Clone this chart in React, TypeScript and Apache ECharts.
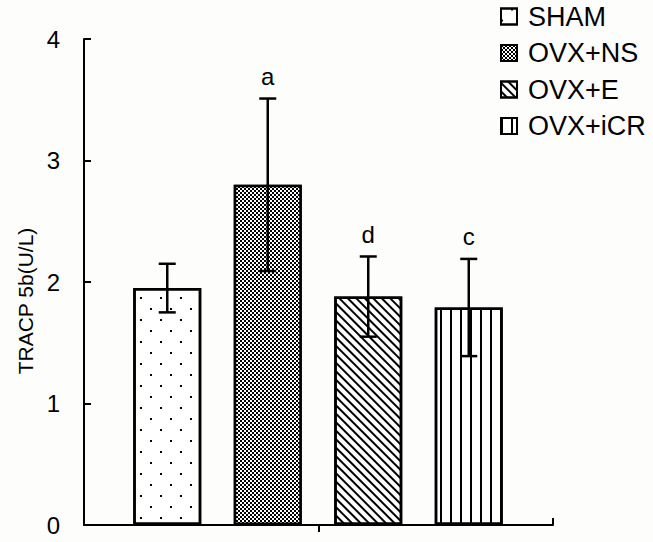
import React, { useEffect, useRef } from "react";
import * as echarts from "echarts";

const categories = ["SHAM", "OVX+NS", "OVX+E", "OVX+iCR"];
const means = [1.95, 2.8, 1.88, 1.79];
const errors = [0.2, 0.71, 0.33, 0.4];
const sigLabels = ["", "a", "d", "c"];
const yMin = 0;
const yMax = 4;
const yInterval = 1;
const yTitle = "TRACP 5b(U/L)";

const FONT = "'Liberation Sans', Arial, sans-serif";

const barColors = ["#ffffff", "#000000", "#ffffff", "#ffffff"];
const decals: any[] = [
  {
    symbol: "rect",
    symbolSize: 1,
    color: "#000",
    dashArrayX: [[2, 18], [0, 10, 2, 8]],
    dashArrayY: [2, 9],
  },
  {
    symbol: "rect",
    symbolSize: 1,
    color: "#ffffff",
    dashArrayX: [[1.5, 1.5], [0, 1.5, 1.5, 0]],
    dashArrayY: [1.5, 0],
  },
  {
    symbol: "rect",
    symbolSize: 1,
    color: "#000",
    dashArrayX: [1, 0],
    dashArrayY: [2, 4],
    rotation: Math.PI / 4,
  },
  {
    symbol: "rect",
    symbolSize: 1,
    color: "#000",
    dashArrayX: [2, 8],
    dashArrayY: [1, 0],
  },
];

export default function App() {
  const ref = useRef<HTMLDivElement>(null);
  useEffect(() => {
    if (!ref.current) return;
    const chart = echarts.init(ref.current, undefined, { renderer: "svg" });
    const barSeries = categories.map((name, i) => ({
      type: "bar",
      name,
      xAxisIndex: 2,
      yAxisIndex: 1,
      data: means.map((v, j) => (j === i ? v : "-")),
      barWidth: 68,
      barGap: "-100%",
      itemStyle: {
        color: barColors[i],
        borderColor: "#000",
        borderWidth: 2.5,
        decal: decals[i],
      },
    }));
    const option: any = {
      animation: false,
      backgroundColor: "#fdfdfb",
      legend: {
        data: categories,
        orient: "vertical",
        left: 500,
        top: 3,
        padding: 0,
        icon: "rect",
        itemWidth: 16,
        itemHeight: 16,
        itemGap: 9.5,
        textStyle: {
          fontFamily: FONT,
          fontSize: 27,
          lineHeight: 27,
          color: "#000",
          padding: [0, 0, 0, 6],
        },
      },
      grid: [
        { left: 84, right: 100, top: 39, bottom: 17 },
        { left: 117, right: 134, top: 39, bottom: 17 },
      ],
      xAxis: [
        {
          gridIndex: 0,
          type: "category",
          data: [""],
          position: "bottom",
          boundaryGap: true,
          axisLine: { show: true, lineStyle: { color: "#000", width: 2 } },
          axisTick: { show: true, alignWithLabel: true, length: 7, lineStyle: { color: "#000", width: 2 } },
          axisLabel: { show: false },
          splitLine: { show: false },
        },
        {
          gridIndex: 0,
          type: "category",
          data: [""],
          position: "bottom",
          boundaryGap: true,
          axisLine: { show: false },
          axisTick: { show: true, inside: true, length: 7, lineStyle: { color: "#000", width: 2 } },
          axisLabel: { show: false },
          splitLine: { show: false },
        },
        {
          gridIndex: 1,
          type: "category",
          data: categories,
          show: false,
        },
      ],
      yAxis: [
        {
          gridIndex: 0,
          type: "value",
          min: yMin,
          max: yMax,
          interval: yInterval,
          axisLine: { show: true, lineStyle: { color: "#000", width: 2 } },
          axisTick: { show: true, inside: true, length: 7, lineStyle: { color: "#000", width: 2 } },
          splitLine: { show: false },
          axisLabel: { fontFamily: FONT, fontSize: 24, color: "#000", margin: 24 },
          name: yTitle,
          nameLocation: "middle",
          nameGap: 48,
          nameTextStyle: { fontFamily: FONT, fontSize: 21, color: "#000", padding: [0, 38, 0, 0] },
        },
        {
          gridIndex: 1,
          type: "value",
          min: yMin,
          max: yMax,
          interval: yInterval,
          show: false,
        },
      ],
      series: [
        ...barSeries,
        {
          type: "custom",
          name: "err",
          xAxisIndex: 2,
          yAxisIndex: 1,
          data: means.map((m, i) => [i, m, errors[i]]),
          z: 5,
          renderItem: (params: any, api: any) => {
            const i = api.value(0);
            const m = api.value(1);
            const e = api.value(2);
            const top = api.coord([i, m + e]);
            const bot = api.coord([i, m - e]);
            const x = top[0];
            const cap = 8.5;
            const ls = { stroke: "#000", lineWidth: 2.5 };
            const label = sigLabels[params.dataIndex];
            const children: any[] = [
              { type: "line", shape: { x1: x, y1: top[1], x2: x, y2: bot[1] }, style: ls },
              { type: "line", shape: { x1: x - cap, y1: top[1], x2: x + cap, y2: top[1] }, style: ls },
              { type: "line", shape: { x1: x - cap, y1: bot[1], x2: x + cap, y2: bot[1] }, style: ls },
            ];
            if (label) {
              children.push({
                type: "text",
                x,
                y: top[1] - 10,
                style: {
                  text: label,
                  fontFamily: FONT,
                  fontSize: 24,
                  fill: "#000",
                  align: "center",
                  verticalAlign: "bottom",
                },
              });
            }
            return { type: "group", children };
          },
        },
      ],
    };
    chart.setOption(option);
    return () => chart.dispose();
  }, []);
  return <div ref={ref} style={{ position: "absolute", left: 0, top: 0, width: 653, height: 542 }} />;
}
